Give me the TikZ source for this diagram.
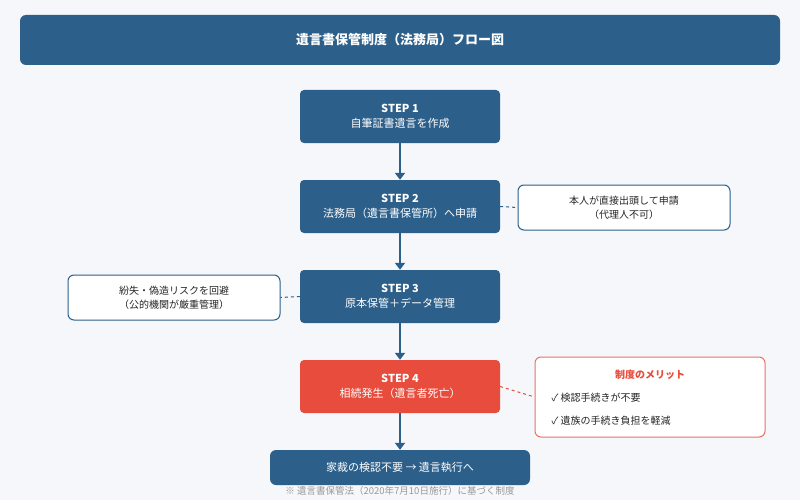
\documentclass[tikz,border=0pt]{standalone}
\usepackage{fontspec}
\setmainfont{Noto Sans CJK JP}
\usetikzlibrary{arrows.meta}
\definecolor{navy}{HTML}{2C5F8A}
\definecolor{redc}{HTML}{E84C3D}
\definecolor{bg}{HTML}{F5F7FA}
\definecolor{gr}{HTML}{999999}
\begin{document}
\begin{tikzpicture}[x=1pt,y=-1pt,
  stepbox/.style={draw=none,fill=navy,rounded corners=4pt,minimum width=200pt,minimum height=53pt,text=white,align=center,font=\fontsize{11}{15}\selectfont},
  note/.style={draw=navy,line width=1pt,fill=white,rounded corners=6pt,minimum width=212pt,minimum height=45pt,align=center,font=\fontsize{10}{14}\selectfont,text=black!85},
  arr/.style={navy,line width=2pt,-{Triangle[length=7pt,width=10pt]}},
  dashline/.style={navy,line width=1pt,dash pattern=on 3pt off 3pt}]
\fill[bg] (0,0) rectangle (800,500);
\useasboundingbox (0,0) rectangle (800,500);
\node[fill=navy,rounded corners=6pt,minimum width=760pt,minimum height=50pt,text=white,font=\bfseries\fontsize{13}{16}\selectfont] (title) at (400,40) {遺言書保管制度（法務局）フロー図};
\node[stepbox] (s1) at (400,116.5) {\textbf{STEP 1}\\自筆証書遺言を作成};
\node[stepbox] (s2) at (400,206.5) {\textbf{STEP 2}\\法務局（遺言書保管所）へ申請};
\node[stepbox] (s3) at (400,296.5) {\textbf{STEP 3}\\原本保管＋データ管理};
\node[stepbox,fill=redc] (s4) at (400,386.5) {\textbf{STEP 4}\\相続発生（遺言者死亡）};
\node[text=gr,font=\fontsize{9.5}{12}\selectfont] (foot) at (400,491) {※ 遺言書保管法（2020年7月10日施行）に基づく制度};
\node[stepbox,minimum width=260pt,minimum height=35pt,rounded corners=6pt] (fin) at (400,467.5) {家裁の検認不要 → 遺言執行へ};
\node[note] (n1) at (624,207.5) {本人が直接出頭して申請\\（代理人不可）};
\node[note] (n2) at (174,297.5) {紛失・偽造リスクを回避\\（公的機関が厳重管理）};
\node[note,draw=redc!80,minimum width=230pt,minimum height=80pt] (n3) at (650,397) {};
\node[text=redc,font=\bfseries\fontsize{10}{12}\selectfont] (m0) at (650,375) {制度のメリット};
\node[anchor=west,font=\fontsize{10}{12}\selectfont,text=black!85] (m1) at (548,398) {✓ 検認手続きが不要};
\node[anchor=west,font=\fontsize{10}{12}\selectfont,text=black!85] (m2) at (548,421) {✓ 遺族の手続き負担を軽減};
\draw[arr] (s1) -- (s2);
\draw[arr] (s2) -- (s3);
\draw[arr] (s3) -- (s4);
\draw[arr] (s4) -- (fin);
\draw[dashline] (s2.east) -- (n1.west);
\draw[dashline] (s3.west) -- (n2.east);
\draw[dashline,redc] (s4.east) -- (n3.west);
\end{tikzpicture}
\end{document}
